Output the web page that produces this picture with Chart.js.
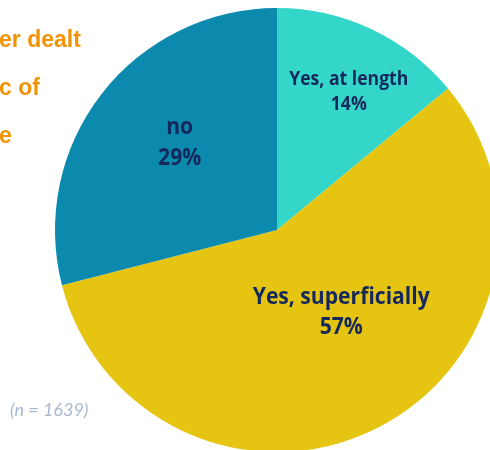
<!DOCTYPE html>
<html lang="en">
<head>
    <meta charset="UTF-8">
    <title>Dealt with the topic</title>
    <script src="https://cdn.jsdelivr.net/npm/chart.js"></script>
    <style>
        html, body { margin: 0; padding: 0; overflow: hidden; background: #fff; }
        #wrap { position: relative; width: 554px; height: 460px; }
    </style>
</head>
<body>
<div id="wrap"><canvas id="pieChart"></canvas></div>

<script>
    // data
    const categories = ['Yes, at length', 'Yes, superficially', 'no'];
    const shares = [14, 57, 29];
    const sliceColors = ['#33d6c9', '#e6c512', '#0c8aae'];
    const sampleNote = '(n = 1639)';
    // fragments of the title that stick out at the left edge
    const titleFragments = ['er dealt', 'c of', 'e'];

    // label placement: angle from 12 o'clock (deg), distance as share of radius, font size
    const labelPlaces = [
        { angle: 27.5, dist: 0.70, size: 20, gap: 25 },
        { angle: 142, dist: 0.47, size: 24, gap: 30 },
        { angle: 312, dist: 0.59, size: 24, gap: 31 }
    ];

    // the original font is narrower than Open Sans, squeeze it a bit
    const squeeze = 0.88;

    const sliceLabels = {
        id: 'sliceLabels',
        afterDatasetsDraw(chart) {
            const ctx = chart.ctx;
            const arcs = chart.getDatasetMeta(0).data;
            arcs.forEach((arc, i) => {
                const p = labelPlaces[i];
                const a = p.angle * Math.PI / 180;
                const r = arc.outerRadius * p.dist;
                const cx = arc.x + r * Math.sin(a);
                const cy = arc.y - r * Math.cos(a);
                ctx.save();
                ctx.translate(cx, cy);
                ctx.scale(squeeze, 1);
                ctx.fillStyle = '#15285c';
                ctx.textAlign = 'center';
                ctx.textBaseline = 'middle';
                ctx.font = 'bold ' + p.size + 'px "Open Sans", sans-serif';
                ctx.fillText(categories[i], 0, -p.gap / 2);
                ctx.fillText(shares[i] + '%', 0, p.gap / 2);
                ctx.restore();
            });
        }
    };

    const sideTexts = {
        id: 'sideTexts',
        afterDraw(chart) {
            const ctx = chart.ctx;
            ctx.save();
            ctx.textAlign = 'left';
            ctx.textBaseline = 'middle';
            ctx.fillStyle = '#f39200';
            ctx.font = 'bold 23px "Liberation Sans", Arial, sans-serif';
            titleFragments.forEach((t, i) => {
                ctx.fillText(t, -1, 41 + i * 48);
            });
            ctx.fillStyle = '#a8b7cf';
            ctx.font = 'italic 18px Lato, "Open Sans", sans-serif';
            ctx.fillText(sampleNote, 10, 410);
            ctx.restore();
        }
    };

    new Chart(document.getElementById('pieChart'), {
        type: 'pie',
        data: {
            labels: categories,
            datasets: [{
                data: shares,
                backgroundColor: sliceColors,
                borderWidth: 0
            }]
        },
        options: {
            responsive: true,
            maintainAspectRatio: false,
            animation: false,
            layout: { padding: { top: 8, bottom: 8, left: 0, right: 0 } },
            plugins: {
                legend: { display: false },
                tooltip: { enabled: false }
            }
        },
        plugins: [sliceLabels, sideTexts]
    });
</script>
</body>
</html>
